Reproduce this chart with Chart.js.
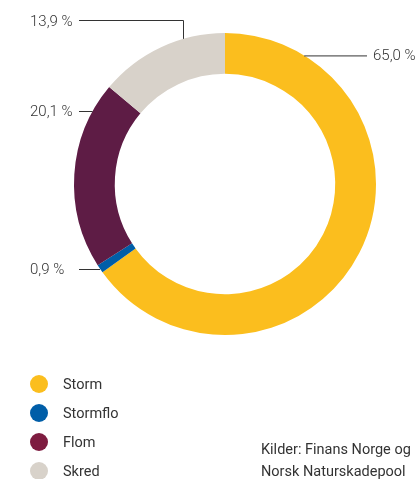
<!DOCTYPE html>
<html lang="no">
<head>
<meta charset="utf-8">
<title>Naturskader</title>
<script src="https://cdn.jsdelivr.net/npm/chart.js@4/dist/chart.umd.min.js"></script>
<style>
  html, body { margin: 0; padding: 0; background: #fff; }
  #wrap { position: relative; width: 419px; height: 479px; font-family: Roboto, "Open Sans", sans-serif; color: #333; }
  #chart { position: absolute; left: 0; top: 0; }
  #legend { position: absolute; left: 30px; top: 369.5px; margin: 0; padding: 0; list-style: none; }
  #legend li { height: 29px; display: flex; align-items: center; font-size: 14.5px; }
  #legend span.dot { width: 18px; height: 18px; border-radius: 50%; margin-right: 15px; }
  #source { position: absolute; left: 261px; top: 439px; font-size: 14.5px; line-height: 22px; }
</style>
</head>
<body>
<div id="wrap">
  <canvas id="chart" width="419" height="479"></canvas>
  <ul id="legend"></ul>
  <div id="source">Kilder: Finans Norge og<br>Norsk Naturskadepool</div>
</div>
<script>
// Andel av naturskader etter type (%)
const kategorier = ['Storm', 'Stormflo', 'Flom', 'Skred'];
const andeler = [65.0, 0.9, 20.1, 13.9];
const farger = ['#FBBE1E', '#005EA8', '#5E1C45', '#D8D2CA'];
const legendFarger = ['#FBBE1E', '#005EA8', '#7E1C40', '#D8D2CA'];

// hvor langs buen etikettlinjen festes (0 = start, 1 = slutt) og hvilken side teksten står
const festepunkt = [0.135, 0.5, 0.846, 0.68];
const side = ['right', 'left', 'left', 'leftTop'];

const formater = v => v.toFixed(1).replace('.', ',') + ' %';

// tegner ledelinjer og prosenttekst utenfor ringen
const etiketter = {
  id: 'etiketter',
  afterDatasetsDraw(chart) {
    const ctx = chart.ctx;
    const meta = chart.getDatasetMeta(0);
    ctx.save();
    ctx.strokeStyle = '#333';
    ctx.lineWidth = 1;
    ctx.fillStyle = '#333';
    ctx.font = '300 15px Roboto, "Open Sans", sans-serif';
    ctx.textBaseline = 'middle';
    meta.data.forEach((arc, i) => {
      const { x, y, startAngle, endAngle, outerRadius } = arc.getProps(['x', 'y', 'startAngle', 'endAngle', 'outerRadius'], true);
      const a = startAngle + festepunkt[i] * (endAngle - startAngle);
      const px = x + outerRadius * Math.cos(a);
      const py = y + outerRadius * Math.sin(a);
      const tekst = formater(andeler[i]);
      ctx.beginPath();
      if (side[i] === 'right') {
        ctx.moveTo(px, py + 0.5);
        ctx.lineTo(367, py + 0.5);
        ctx.stroke();
        ctx.textAlign = 'left';
        ctx.fillText(tekst, 373, py + 1);
      } else if (side[i] === 'leftTop') {
        const topY = 20.5;
        ctx.moveTo(Math.round(px) + 0.5, py);
        ctx.lineTo(Math.round(px) + 0.5, topY);
        ctx.lineTo(79, topY);
        ctx.stroke();
        ctx.textAlign = 'left';
        ctx.fillText(tekst, 30, topY + 2);
      } else {
        ctx.moveTo(px, Math.round(py) + 0.5);
        ctx.lineTo(79, Math.round(py) + 0.5);
        ctx.stroke();
        ctx.textAlign = 'left';
        ctx.fillText(tekst, 30, py + 1);
      }
    });
    ctx.restore();
  }
};

const chart = new Chart(document.getElementById('chart'), {
  type: 'doughnut',
  data: {
    labels: kategorier,
    datasets: [{
      data: andeler,
      backgroundColor: farger,
      borderWidth: 0
    }]
  },
  options: {
    responsive: false,
    animation: false,
    cutout: '73%',
    layout: { padding: { top: 33, bottom: 144, left: 74, right: 43 } },
    plugins: {
      legend: { display: false },
      tooltip: { enabled: false }
    }
  },
  plugins: [etiketter]
});

// egen forklaring under diagrammet
const legend = document.getElementById('legend');
kategorier.forEach((navn, i) => {
  const li = document.createElement('li');
  li.innerHTML = '<span class="dot" style="background:' + legendFarger[i] + '"></span>' + navn;
  legend.appendChild(li);
});
</script>
</body>
</html>
